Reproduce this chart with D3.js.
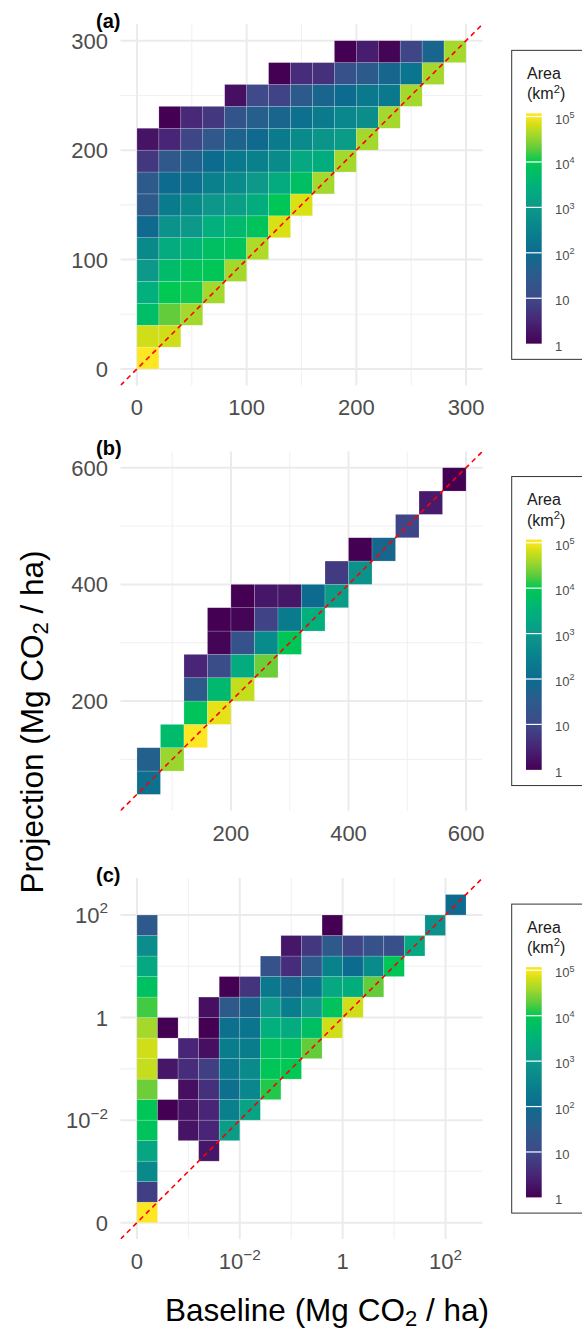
<!DOCTYPE html>
<html>
<head>
<meta charset="utf-8">
<title>Projection vs Baseline</title>
<script src="https://d3js.org/d3.v7.min.js"></script>
<style>
  body { margin: 0; background: #fff; }
  svg text { font-family: "Liberation Sans", Arial, sans-serif; }
  .grid-major { stroke: #ebebeb; stroke-width: 2; }
  .grid-minor { stroke: #f1f1f1; stroke-width: 1.1; }
  .tick-label { fill: #4d4d4d; font-size: 22px; }
  .legend-label { fill: #4d4d4d; font-size: 13px; }
</style>
</head>
<body>
<div id="chart"></div>
<script>
// values are log10 of area (km2); each row of bins starts at column rowStart[j], null = empty bin

// (a) bins of 20 Mg CO2/ha
const rowStartA = [0, 0, 0, 0, 0, 0, 0, 0, 0, 0, 0, 1, 4, 6, 9];
const areaA = [
  [5.0],
  [4.8, 4.8],
  [3.75, 4.3, 4.6],
  [3.45, 4.0, 4.05, 4.6],
  [3.0, 3.7, 3.9, 3.95, 4.6],
  [2.65, 3.35, 3.55, 3.8, 3.9, 4.65],
  [1.95, 2.85, 3.0, 3.45, 3.65, 3.9, 4.85],
  [1.45, 2.35, 2.65, 2.95, 3.1, 3.4, 3.95, 4.85],
  [1.45, 2.0, 2.1, 2.45, 2.7, 3.0, 3.35, 3.8, 4.6],
  [0.75, 1.4, 1.7, 2.0, 2.3, 2.45, 2.7, 3.3, 3.4, 4.6],
  [0.25, 0.5, 0.95, 1.4, 1.75, 1.95, 2.35, 2.7, 2.9, 3.05, 4.6],
  [0.0, 0.55, 0.75, 1.3, 1.6, 1.8, 2.1, 2.35, 2.6, 2.75, 4.6],
  [0.2, 1.0, 0.9, 1.5, 1.8, 2.0, 2.3, 2.3, 4.6],
  [0.0, 0.6, 0.65, 1.2, 1.5, 1.85, 2.2, 4.6],
  [0.0, 0.4, 0.05, 0.95, 1.8, 4.6]
];

// (b) bins of 40 Mg CO2/ha
const rowStartB = [0, 1, 1, 2, 3, 3, 3, 4, 4, 5, 9, 10, 12, 13, 14];
const areaB = [
  [],
  [2.1],
  [1.65, 4.55],
  [3.7, 5.0],
  [3.9, 4.9],
  [1.45, 3.65, 4.75],
  [0.5, 1.1, 3.35, 4.35],
  [0.05, 1.25, 2.7, 3.95],
  [0.0, 0.05, 0.9, 2.35, 3.45],
  [0.0, 0.3, 0.3, 2.0, 3.05],
  [0.8, 2.85],
  [0.0, 1.85],
  [0.95],
  [0.35],
  [0.0]
];

// (c) bins on the transformed (log) scale, 5 bins per tick step
const rowStartC = [0, 0, 0, 0, 0, 0, 0, 0, 0, 0, 0, 0, 0, 0, 0, 15];
const areaC = [
  [5.0],
  [0.85],
  [2.65],
  [3.25, null, null, 0.3],
  [3.9, null, 0.25, 0.5, 3.05],
  [3.95, 0.0, 0.25, 0.5, 2.45, 3.2],
  [4.35, null, 0.2, 0.65, 2.1, 2.6, 4.1],
  [4.75, 0.3, 0.6, 0.85, 2.3, 2.7, 3.95, 4.0],
  [4.8, null, 0.5, 0.2, 2.4, 2.4, 3.85, 3.85, 4.3],
  [4.6, 0.0, null, 0.0, 2.1, 2.2, 3.45, 3.35, 3.8, 4.8],
  [4.2, null, null, 0.2, 1.45, 1.85, 3.0, 2.4, 3.0, 3.9, 4.8],
  [3.85, null, null, null, 0.0, 0.7, 2.3, 1.85, 2.2, 3.3, 3.4, 4.3],
  [3.3, null, null, null, null, null, 1.25, 0.6, 1.45, 2.5, 2.0, 2.7, 3.95],
  [2.75, null, null, null, null, null, null, 0.3, 0.75, 1.45, 0.95, 1.2, 1.15, 3.3],
  [1.45, null, null, null, null, null, null, null, null, 0.0, null, null, null, null, 2.8],
  [2.0]
];

const ticksA = [0, 100, 200, 300], minorA = [50, 150, 250], labelsA = ["0", "100", "200", "300"];
const ticksB = [200, 400, 600], minorB = [100, 300, 500], labelsB = ["200", "400", "600"];
const ticksC = [0, 5, 10, 15], minorC = [2.5, 7.5, 12.5], labelsC = ["0", "10^-2", "1", "10^2"];

const legendTicks = [0, 1, 2, 3, 4, 5];
const legendLabels = ["1", "10", "10^2", "10^3", "10^4", "10^5"];
const legendMax = 5.07;

// colour ramp
const colourStops = [0, 0.5, 1, 1.5, 2, 2.5, 3, 3.5, 4, 4.3, 4.6, 4.85, 5];
const colourValues = ["#440154", "#482576", "#3e4a89", "#2c5b8b", "#0d6b8f", "#09828c",
  "#0c998a", "#00b27a", "#00c853", "#62cc3b", "#a5d82c", "#d9e013", "#fde725"];
const colour = d3.scaleLinear().domain(colourStops).range(colourValues).clamp(true);

const width = 582, height = 1331;
const svg = d3.select("#chart").append("svg")
  .attr("width", width).attr("height", height);

const panels = [
  { id: "a", tag: "(a)", top: 24.3, bottom: 385.4, domain: [-15, 315], binW: 20,
    ticks: ticksA, minor: minorA, labels: labelsA, starts: rowStartA, areas: areaA },
  { id: "b", tag: "(b)", top: 451.4, bottom: 810.7, domain: [12, 628], binW: 40,
    ticks: ticksB, minor: minorB, labels: labelsB, starts: rowStartB, areas: areaB },
  { id: "c", tag: "(c)", top: 878.1, bottom: 1239.1, domain: [-0.8, 16.8], binW: 1,
    ticks: ticksC, minor: minorC, labels: labelsC, starts: rowStartC, areas: areaC }
];
const left = 120.5, right = 482.5;

// write "10^2" style labels with a raised exponent
function powerText(sel, label) {
  const parts = label.split("^");
  sel.append("tspan").text(parts[0]);
  if (parts.length > 1) {
    sel.append("tspan").attr("font-size", "70%").attr("dy", "-0.62em")
      .text(parts[1].replace("-", "\u2212"));
  }
}

// gradient for the colour bar
const defs = svg.append("defs");
const grad = defs.append("linearGradient").attr("id", "bar")
  .attr("x1", 0).attr("y1", 1).attr("x2", 0).attr("y2", 0);
d3.range(0, 41).forEach(i => {
  const v = legendMax * i / 40;
  grad.append("stop").attr("offset", i / 40).attr("stop-color", colour(v));
});

panels.forEach(p => {
  const x = d3.scaleLinear().domain(p.domain).range([left, right]);
  const y = d3.scaleLinear().domain(p.domain).range([p.bottom, p.top]);
  const g = svg.append("g");

  defs.append("clipPath").attr("id", "clip-" + p.id)
    .append("rect").attr("x", left).attr("y", p.top)
    .attr("width", right - left).attr("height", p.bottom - p.top);

  // grid
  g.selectAll(".vminor").data(p.minor).join("line").attr("class", "grid-minor")
    .attr("x1", d => x(d)).attr("x2", d => x(d)).attr("y1", p.top).attr("y2", p.bottom);
  g.selectAll(".hminor").data(p.minor).join("line").attr("class", "grid-minor")
    .attr("y1", d => y(d)).attr("y2", d => y(d)).attr("x1", left).attr("x2", right);
  g.selectAll(".vmajor").data(p.ticks).join("line").attr("class", "grid-major")
    .attr("x1", d => x(d)).attr("x2", d => x(d)).attr("y1", p.top).attr("y2", p.bottom);
  g.selectAll(".hmajor").data(p.ticks).join("line").attr("class", "grid-major")
    .attr("y1", d => y(d)).attr("y2", d => y(d)).attr("x1", left).attr("x2", right);

  // tiles
  const cells = [];
  p.areas.forEach((row, j) => {
    row.forEach((v, k) => {
      if (v !== null) cells.push({ col: p.starts[j] + k, row: j, v: v });
    });
  });
  g.append("g").selectAll("rect").data(cells).join("rect")
    .attr("x", d => x(d.col * p.binW))
    .attr("y", d => y((d.row + 1) * p.binW))
    .attr("width", d => x((d.col + 1) * p.binW) - x(d.col * p.binW))
    .attr("height", d => y(d.row * p.binW) - y((d.row + 1) * p.binW))
    .attr("fill", d => colour(d.v))
    .attr("stroke", "rgba(255,255,255,0.3)")
    .attr("stroke-width", 0.6);

  // 1:1 line
  g.append("line")
    .attr("clip-path", "url(#clip-" + p.id + ")")
    .attr("x1", x(p.domain[0])).attr("y1", y(p.domain[0]))
    .attr("x2", x(p.domain[1])).attr("y2", y(p.domain[1]))
    .attr("stroke", "#ff0000").attr("stroke-width", 1.6)
    .attr("stroke-dasharray", "5,4");

  // tick labels
  p.ticks.forEach((t, i) => {
    const tx = g.append("text").attr("class", "tick-label")
      .attr("x", x(t)).attr("y", p.bottom + 30).attr("text-anchor", "middle");
    powerText(tx, p.labels[i]);
    const ty = g.append("text").attr("class", "tick-label")
      .attr("x", 108).attr("y", y(t) + 8).attr("text-anchor", "end");
    powerText(ty, p.labels[i]);
  });

  // panel tag
  g.append("text").attr("x", 96).attr("y", p.top + 3.5)
    .attr("font-size", 20).attr("font-weight", "bold").attr("fill", "#000")
    .text(p.tag);

  // legend
  const mid = (p.top + p.bottom) / 2;
  const lg = svg.append("g").attr("transform", `translate(0,${mid - 154.5})`);
  lg.append("rect").attr("x", 511.7).attr("y", 0).attr("width", 90).attr("height", 309)
    .attr("fill", "#fff").attr("stroke", "#333").attr("stroke-width", 1);
  lg.append("text").attr("x", 527).attr("y", 28.5).attr("font-size", 16).attr("fill", "#1a1a1a")
    .text("Area");
  const unit = lg.append("text").attr("x", 527).attr("y", 49).attr("font-size", 16).attr("fill", "#1a1a1a");
  unit.append("tspan").text("(km");
  unit.append("tspan").attr("font-size", "70%").attr("dy", "-0.6em").text("2");
  unit.append("tspan").attr("dy", "0.42em").text(")");

  const ly = d3.scaleLinear().domain([0, legendMax]).range([293.3, 63]);
  lg.append("rect").attr("x", 526).attr("y", ly(legendMax))
    .attr("width", 15.7).attr("height", ly(0) - ly(legendMax))
    .attr("fill", "url(#bar)");
  lg.selectAll(".ltick").data(legendTicks.slice(1)).join("line")
    .attr("x1", 526).attr("x2", 541.7)
    .attr("y1", d => ly(d)).attr("y2", d => ly(d))
    .attr("stroke", "#fff").attr("stroke-width", 1.2);
  legendTicks.forEach((t, i) => {
    const lt = lg.append("text").attr("class", "legend-label")
      .attr("x", 555).attr("y", ly(t) + 7);
    powerText(lt, legendLabels[i]);
  });
});

// axis titles
const xt = svg.append("text").attr("x", 327).attr("y", 1321)
  .attr("text-anchor", "middle").attr("font-size", 31.5).attr("fill", "#000");
xt.append("tspan").text("Baseline (Mg CO");
xt.append("tspan").attr("font-size", "70%").attr("dy", 5).text("2");
xt.append("tspan").attr("dy", -5).text(" / ha)");

const yt = svg.append("text").attr("transform", "translate(43,722) rotate(-90)")
  .attr("text-anchor", "middle").attr("font-size", 31.5).attr("fill", "#000");
yt.append("tspan").text("Projection (Mg CO");
yt.append("tspan").attr("font-size", "70%").attr("dy", 5).text("2");
yt.append("tspan").attr("dy", -5).text(" / ha)");
</script>
</body>
</html>
